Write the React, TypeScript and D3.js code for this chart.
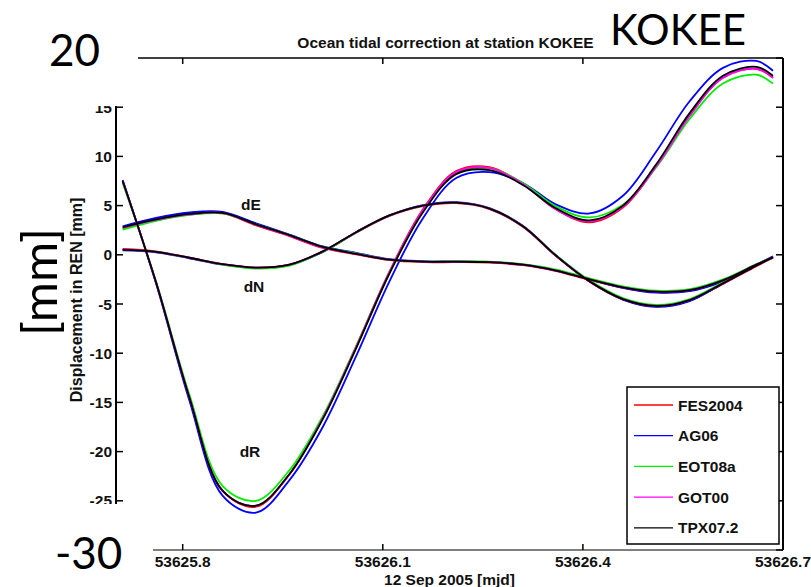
import React from "react";
import * as d3 from "d3";

// ---- data ----
const times = [53625.71, 53625.76, 53625.81, 53625.86, 53625.91, 53625.96, 53626.01, 53626.06, 53626.11, 53626.16, 53626.21, 53626.26, 53626.31, 53626.36, 53626.41, 53626.46, 53626.51, 53626.56, 53626.61, 53626.66, 53626.685];

const FES2004_dR = [7.5, -2.8, -14.5, -24.0, -25.6, -22.3, -16.6, -9.3, -1.7, 4.6, 8.5, 8.9, 7.2, 4.6, 3.3, 4.8, 9.0, 14.2, 18.0, 18.9, 18.0];
const AG06_dR = [7.6, -2.9, -14.8, -24.5, -26.2, -22.9, -17.5, -10.3, -2.7, 3.7, 7.8, 8.4, 7.3, 5.1, 4.2, 6.0, 10.5, 15.6, 19.0, 19.7, 18.7];
const EOT08a_dR = [7.3, -2.7, -14.2, -23.5, -25.0, -21.9, -16.4, -9.3, -1.8, 4.4, 8.3, 8.8, 7.3, 4.9, 3.8, 5.1, 8.9, 13.8, 17.4, 18.3, 17.4];
const GOT00_dR = [7.5, -2.8, -14.5, -24.0, -25.5, -22.3, -16.6, -9.4, -1.8, 4.5, 8.4, 8.8, 7.2, 4.6, 3.4, 4.9, 9.0, 14.1, 18.0, 18.9, 18.0];
const TPX072_dR = [7.5, -2.8, -14.5, -24.0, -25.5, -22.3, -16.7, -9.5, -1.9, 4.3, 8.2, 8.6, 7.1, 4.7, 3.5, 5.0, 9.2, 14.4, 18.2, 19.1, 18.2];

const FES2004_dE = [2.7, 3.5, 4.1, 4.2, 3.0, 1.9, 0.7, 0.05, -0.55, -0.75, -0.75, -0.8, -1.05, -1.65, -2.55, -3.35, -3.8, -3.65, -2.65, -1.05, -0.3];
const AG06_dE = [2.9, 3.75, 4.3, 4.35, 3.2, 2.05, 0.85, 0.2, -0.45, -0.65, -0.7, -0.75, -1.0, -1.6, -2.5, -3.35, -3.85, -3.7, -2.7, -1.0, -0.2];
const EOT08a_dE = [2.55, 3.45, 4.05, 4.2, 3.1, 2.0, 0.8, 0.15, -0.5, -0.7, -0.65, -0.7, -0.95, -1.5, -2.4, -3.2, -3.65, -3.5, -2.5, -0.95, -0.25];
const GOT00_dE = [2.75, 3.55, 4.1, 4.25, 3.05, 1.95, 0.75, 0.1, -0.5, -0.7, -0.7, -0.75, -1.0, -1.6, -2.5, -3.3, -3.75, -3.6, -2.6, -1.0, -0.25];
const TPX072_dE = [2.8, 3.6, 4.15, 4.25, 3.1, 2.0, 0.8, 0.1, -0.5, -0.7, -0.7, -0.75, -1.0, -1.6, -2.5, -3.3, -3.75, -3.6, -2.6, -1.0, -0.25];

const FES2004_dN = [0.6, 0.35, -0.3, -0.95, -1.3, -1.0, 0.3, 2.25, 3.95, 4.95, 5.25, 4.65, 2.85, -0.15, -2.75, -4.55, -5.25, -4.65, -2.95, -1.15, -0.3];
const AG06_dN = [0.45, 0.25, -0.35, -1.0, -1.35, -1.05, 0.3, 2.3, 4.0, 5.05, 5.35, 4.75, 2.95, -0.1, -2.7, -4.55, -5.3, -4.7, -2.9, -1.05, -0.15];
const EOT08a_dN = [0.5, 0.3, -0.3, -1.0, -1.4, -1.1, 0.3, 2.25, 4.0, 5.0, 5.3, 4.7, 2.9, -0.05, -2.6, -4.4, -5.1, -4.5, -2.8, -1.05, -0.25];
const GOT00_dN = [0.55, 0.3, -0.3, -0.95, -1.3, -1.0, 0.35, 2.3, 4.0, 5.0, 5.3, 4.7, 2.9, -0.1, -2.7, -4.5, -5.2, -4.6, -2.9, -1.1, -0.25];
const TPX072_dN = [0.5, 0.3, -0.3, -0.95, -1.3, -1.0, 0.35, 2.3, 4.0, 5.0, 5.3, 4.7, 2.9, -0.1, -2.7, -4.5, -5.2, -4.6, -2.9, -1.1, -0.25];

const modelNames = ["FES2004", "AG06", "EOT08a", "GOT00", "TPX07.2"];
const modelColors = ["#ff0000", "#0000ff", "#00ee00", "#ff00ff", "#000000"];
const xTicks = [53625.8, 53626.1, 53626.4, 53626.7];
const yTicks = [-30, -25, -20, -15, -10, -5, 0, 5, 10, 15, 20];
const yTickLabels = [-25, -20, -15, -10, -5, 0, 5, 10, 15];

const models = [
  { name: modelNames[0], color: modelColors[0], series: [FES2004_dR, FES2004_dE, FES2004_dN] },
  { name: modelNames[1], color: modelColors[1], series: [AG06_dR, AG06_dE, AG06_dN] },
  { name: modelNames[2], color: modelColors[2], series: [EOT08a_dR, EOT08a_dE, EOT08a_dN] },
  { name: modelNames[3], color: modelColors[3], series: [GOT00_dR, GOT00_dE, GOT00_dN] },
  { name: modelNames[4], color: modelColors[4], series: [TPX072_dR, TPX072_dE, TPX072_dN] },
];

const W = 811, H = 587;
const L = 116, R = 783, T = 58, B = 550;
const FONT = "'Liberation Sans', Arial, sans-serif";
const BIG = "Lato, 'Open Sans', sans-serif";

export default function App() {
  const x = d3.scaleLinear().domain([53625.7, 53626.7]).range([L, R]);
  const y = d3.scaleLinear().domain([-30, 20]).range([B, T]);
  const line = d3
    .line<number>()
    .x((_, i) => x(times[i]))
    .y((d) => y(d))
    .curve(d3.curveCatmullRom.alpha(0.5));

  const tickLen = 6;
  const legX = 627, legY = 387, legW = 152, legH = 157;
  const legRowY = (i: number) => legY + 18 + i * 30.7;

  return (
    <svg width={W} height={H} style={{ position: "absolute", left: 0, top: 0, background: "#fff" }}>
      <rect x={0} y={0} width={W} height={H} fill="#fff" />
      {/* title */}
      <text x={(L + R) / 2 - 4} y={48} textAnchor="middle" fontFamily={FONT} fontWeight="bold" fontSize={15.5} fill="#111">
        Ocean tidal correction at station KOKEE
      </text>

      {/* curves */}
      {models.map((m) =>
        m.series.map((s, k) => (
          <path key={m.name + k} d={line(s) || ""} fill="none" stroke={m.color} strokeWidth={1.8} />
        ))
      )}

      {/* axes frame */}
      <line x1={L} y1={T} x2={R} y2={T} stroke="#000" strokeWidth={1.5} />
      <line x1={R} y1={T} x2={R} y2={B} stroke="#000" strokeWidth={2} />
      <line x1={L} y1={T} x2={L} y2={B} stroke="#000" strokeWidth={2} />
      <line x1={L} y1={B} x2={R} y2={B} stroke="#555" strokeWidth={1.5} />

      {xTicks.map((t) => (
        <g key={"xt" + t}>
          <line x1={x(t)} y1={B} x2={x(t)} y2={B - tickLen} stroke="#000" strokeWidth={1.5} />
          <line x1={x(t)} y1={T} x2={x(t)} y2={T + tickLen} stroke="#000" strokeWidth={1.5} />
          <text x={x(t)} y={567} textAnchor="middle" fontFamily={FONT} fontWeight="bold" fontSize={15.5} fill="#111">
            {t.toFixed(1)}
          </text>
        </g>
      ))}
      {yTicks.map((v) => (
        <g key={"yt" + v}>
          <line x1={L} y1={y(v)} x2={L + tickLen + 1} y2={y(v)} stroke="#000" strokeWidth={1.5} />
          <line x1={R} y1={y(v)} x2={R - tickLen - 1} y2={y(v)} stroke="#000" strokeWidth={1.5} />
        </g>
      ))}
      {yTickLabels.map((v) => (
        <text key={"yl" + v} x={L - 4} y={y(v)} dy="0.36em" textAnchor="end" fontFamily={FONT} fontWeight="bold" fontSize={15.5} fill="#111">
          {v}
        </text>
      ))}

      {/* axis labels */}
      <text x={(L + R) / 2} y={585} textAnchor="middle" fontFamily={FONT} fontWeight="bold" fontSize={15.5} fill="#111">
        12 Sep 2005 [mjd]
      </text>
      <text transform={`translate(82,${(T + B) / 2 - 4}) rotate(-90)`} textAnchor="middle" fontFamily={FONT} fontWeight="bold" fontSize={16} fill="#111">
        Displacement in REN [mm]
      </text>

      {/* curve labels */}
      <text x={251} y={210} textAnchor="middle" fontFamily={FONT} fontWeight="bold" fontSize={15.5} fill="#111">dE</text>
      <text x={254} y={292} textAnchor="middle" fontFamily={FONT} fontWeight="bold" fontSize={15.5} fill="#111">dN</text>
      <text x={250} y={457} textAnchor="middle" fontFamily={FONT} fontWeight="bold" fontSize={15.5} fill="#111">dR</text>

      {/* legend */}
      <rect x={legX} y={legY} width={legW} height={legH} fill="#fff" stroke="#000" strokeWidth={1.5} />
      {models.map((m, i) => (
        <g key={"lg" + m.name}>
          <line x1={634} x2={673} y1={legRowY(i)} y2={legRowY(i)} stroke={m.color} strokeWidth={1.3} />
          <text x={678} y={legRowY(i)} dy="0.36em" fontFamily={FONT} fontWeight="bold" fontSize={15.5} fill="#111">
            {m.name}
          </text>
        </g>
      ))}

      {/* slide overlays */}
      <rect x={20} y={0} width={118} height={106} fill="#fff" />
      <rect x={20} y={504} width={133} height={83} fill="#fff" />
      <text x={100} y={66} textAnchor="end" fontFamily={BIG} fontSize={44} fill="#000">20</text>
      <text x={55} y={569} fontFamily={BIG} fontSize={44} fill="#000">-30</text>
      <text transform="translate(57,282) rotate(-90)" textAnchor="middle" fontFamily={BIG} fontSize={49} fill="#000">[mm]</text>
      <text x={610} y={45} fontFamily={BIG} fontSize={42} fill="#000">KOKEE</text>
    </svg>
  );
}
